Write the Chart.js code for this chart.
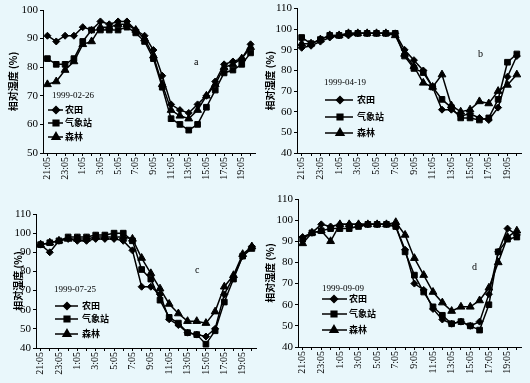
<!DOCTYPE html>
<html lang="zh">
<head>
    <meta charset="UTF-8">
    <script src="https://cdn.jsdelivr.net/npm/chart.js"></script>
    <title>相对湿度</title>
    <style>
        body { margin: 0; background: #e9f7fb; }
        #wrap { position: relative; width: 530px; height: 383px; }
        .panel { position: absolute; }
    </style>
</head>
<body>
<div id="wrap">
    <div class="panel" style="left:0;top:0;width:265px;height:190px"><canvas id="chartA"></canvas></div>
    <div class="panel" style="left:265px;top:0;width:265px;height:190px"><canvas id="chartB"></canvas></div>
    <div class="panel" style="left:0;top:190px;width:265px;height:193px"><canvas id="chartC"></canvas></div>
    <div class="panel" style="left:265px;top:190px;width:265px;height:193px"><canvas id="chartD"></canvas></div>
</div>
<script>
    // hourly readings, 21:05 to 20:05 next day
    const hours = ['21:05','22:05','23:05','0:05','1:05','2:05','3:05','4:05','5:05','6:05','7:05','8:05',
                   '9:05','10:05','11:05','12:05','13:05','14:05','15:05','16:05','17:05','18:05','19:05','20:05'];
    const seriesNames = ['农田', '气象站', '森林'];
    const yTitle = '相对湿度 (%)';

    // a: 1999-02-26
    const farmA    = [91,89,91,91,94,93,96,95,96,96,93,91,86,77,67,65,64,67,70,75,81,82,83,88];
    const stationA = [83,81,81,83,89,93,93,93,93,94,92,89,83,73,62,60,58,60,66,72,78,79,81,85];
    const forestA  = [74,75,79,82,88,89,94,94,95,95,93,90,84,74,65,63,62,65,70,74,80,81,83,87];

    // b: 1999-04-19
    const farmB    = [91,92,94,96,97,97,98,98,98,98,98,90,85,80,72,61,61,58,59,57,56,62,77,87];
    const stationB = [96,93,95,97,97,98,98,98,98,98,98,87,81,79,72,66,62,57,57,56,57,66,84,88];
    const forestB  = [93,93,95,97,97,98,98,98,98,98,97,88,82,74,72,78,63,60,61,65,64,70,73,78];

    // c: 1999-07-25
    const farmC    = [94,90,96,97,96,96,97,97,97,96,91,72,72,68,55,52,48,47,46,50,68,77,88,93];
    const stationC = [94,95,96,98,98,98,99,99,100,100,96,81,76,65,56,53,48,47,42,49,64,76,88,92];
    const forestC  = [94,95,96,97,97,97,98,98,98,98,97,87,79,71,63,58,54,54,53,59,72,78,89,93];

    // d: 1999-09-09
    const farmD    = [92,94,98,97,98,98,98,98,98,98,97,86,70,67,58,53,51,52,50,52,65,85,96,93];
    const stationD = [91,94,95,96,96,96,97,98,98,98,97,85,74,66,59,55,51,52,50,48,60,85,91,92];
    const forestD  = [89,94,95,90,98,98,98,98,98,98,99,93,82,74,66,61,57,59,59,62,68,80,92,95];

    const pointStyles = ['rectRot', 'rect', 'triangle'];
    const pointSizes = [3.5, 4, 4.5];

    const panelLegend = {
        id: 'panelLegend',
        afterDraw(chart, args, o) {
            const ctx = chart.ctx;
            ctx.save();
            ctx.fillStyle = '#000';
            ctx.strokeStyle = '#000';
            ctx.textBaseline = 'middle';
            ctx.font = '9px "Liberation Serif"';
            ctx.fillText(o.date, o.x, o.y);
            chart.data.datasets.forEach((ds, i) => {
                const y = o.rows[i];
                ctx.lineWidth = 1.5;
                ctx.beginPath();
                ctx.moveTo(o.lineFrom, y);
                ctx.lineTo(o.lineTo, y);
                ctx.stroke();
                Chart.helpers.drawPoint(ctx, {pointStyle: ds.pointStyle, radius: ds.pointRadius, borderWidth: 1, rotation: 0}, o.markerX, y);
                ctx.font = 'bold 9px "Noto Sans CJK SC"';
                ctx.fillText(ds.label, o.textX, y);
            });
            ctx.font = '10px "Liberation Serif"';
            ctx.fillText(o.letter, o.letterX, o.letterY);
            ctx.restore();
        }
    };

    function makeChart(id, series, yMin, yMax, yStep, lay, legend) {
        new Chart(document.getElementById(id), {
            type: 'line',
            data: {
                labels: hours,
                datasets: series.map((vals, i) => ({
                    label: seriesNames[i],
                    data: vals,
                    borderColor: '#000',
                    backgroundColor: '#000',
                    borderWidth: 1.5,
                    pointStyle: pointStyles[i],
                    pointRadius: pointSizes[i],
                    pointBorderWidth: 1,
                    tension: 0
                }))
            },
            options: {
                responsive: true,
                maintainAspectRatio: false,
                animation: false,
                layout: { padding: { left: lay.pl, top: lay.pt, right: lay.pr, bottom: 0 } },
                plugins: {
                    legend: { display: false },
                    tooltip: { enabled: false },
                    panelLegend: legend
                },
                scales: {
                    x: {
                        offset: true,
                        border: { color: '#000', width: 1 },
                        grid: { display: true, drawOnChartArea: false, tickLength: 3, tickColor: '#000', offset: false },
                        ticks: {
                            autoSkip: false, maxRotation: 90, minRotation: 90, padding: 1,
                            color: '#000', font: { family: 'Liberation Serif', size: 10 },
                            callback: (v, i) => i % 2 === 0 ? hours[i] : ''
                        },
                        afterFit: s => { s.height = lay.xh; }
                    },
                    y: {
                        min: yMin, max: yMax,
                        border: { color: '#000', width: 1 },
                        grid: { display: true, drawOnChartArea: false, tickLength: 3, tickColor: '#000' },
                        ticks: { stepSize: yStep, padding: 2, color: '#000', font: { family: 'Liberation Serif', size: 11 } },
                        title: { display: true, text: yTitle, color: '#000', padding: { top: 0, bottom: 0 },
                                 font: { family: 'Noto Sans CJK SC', size: 10, weight: 'bold', lineHeight: 1 } },
                        afterFit: s => { s.width = lay.yw; }
                    }
                }
            },
            plugins: [panelLegend]
        });
    }

    makeChart('chartA', [farmA, stationA, forestA], 50, 100, 5,
        { pl: 8, pt: 10, pr: 10, yw: 35, xh: 37 },
        { date: '1999-02-26', x: 52, y: 96, rows: [110, 123, 137], lineFrom: 48, lineTo: 63, markerX: 56, textX: 65,
          letter: 'a', letterX: 194, letterY: 62 });
    makeChart('chartB', [farmB, stationB, forestB], 40, 110, 10,
        { pl: 0, pt: 8, pr: 8, yw: 32, xh: 37 },
        { date: '1999-04-19', x: 59, y: 83, rows: [100, 117, 133], lineFrom: 60, lineTo: 88, markerX: 75, textX: 92,
          letter: 'b', letterX: 213, letterY: 54 });
    makeChart('chartC', [farmC, stationC, forestC], 40, 110, 10,
        { pl: 13, pt: 24, pr: 7, yw: 23, xh: 35 },
        { date: '1999-07-25', x: 54, y: 100, rows: [116, 129, 144], lineFrom: 55, lineTo: 78, markerX: 67, textX: 82,
          letter: 'c', letterX: 195, letterY: 80 });
    makeChart('chartD', [farmD, stationD, forestD], 40, 110, 10,
        { pl: 0, pt: 9, pr: 8, yw: 33, xh: 36 },
        { date: '1999-09-09', x: 57, y: 99, rows: [109, 124, 140], lineFrom: 57, lineTo: 82, markerX: 69, textX: 84,
          letter: 'd', letterX: 207, letterY: 77 });
</script>
</body>
</html>
